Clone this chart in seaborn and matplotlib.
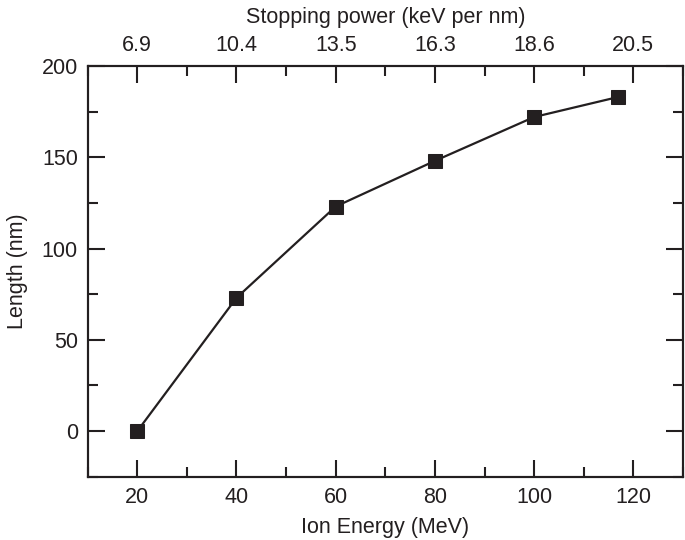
import numpy as np
import pandas as pd
import matplotlib
matplotlib.use("Agg")
import matplotlib.pyplot as plt
import seaborn as sns
from matplotlib.ticker import MultipleLocator

# data
energy = [20, 40, 60, 80, 100, 117]
length = [0, 73, 123, 148, 172, 183]
top_ticks = [20, 40, 60, 80, 100, 120]
top_labels = ["6.9", "10.4", "13.5", "16.3", "18.6", "20.5"]

INK = "#231f20"

sns.set_style("ticks")
plt.rcParams["font.family"] = ["Liberation Sans", "DejaVu Sans"]
plt.rcParams.update({
    "axes.edgecolor": INK,
    "axes.linewidth": 1.5,
    "xtick.color": INK,
    "ytick.color": INK,
    "text.color": INK,
    "axes.labelcolor": INK,
})

df = pd.DataFrame({"energy": energy, "length": length})

fig = plt.figure(figsize=(6.85, 5.40), dpi=100)
ax = fig.add_axes([0.128, 0.117, 0.869, 0.761])

sns.lineplot(data=df, x="energy", y="length", ax=ax, color=INK, lw=1.6,
             marker="s", markersize=10.5, markeredgecolor=INK,
             markerfacecolor=INK)

ax.set_xlim(10, 130)
ax.set_ylim(-25, 200)
ax.set_xticks([20, 40, 60, 80, 100, 120])
ax.set_yticks([0, 50, 100, 150, 200])
ax.xaxis.set_minor_locator(MultipleLocator(10))
ax.yaxis.set_minor_locator(MultipleLocator(25))
ax.tick_params(which="both", direction="in", width=1.5, labelsize=15.5, pad=7,
               right=True, top=False)
ax.tick_params(which="major", length=12)
ax.tick_params(which="minor", length=7)
ax.set_xlabel("Ion Energy (MeV)", fontsize=15.5, labelpad=7)
ax.set_ylabel("Length (nm)", fontsize=15.5, labelpad=10)
for s in ax.spines.values():
    s.set_visible(True)

top = ax.twiny()
top.set_xlim(ax.get_xlim())
top.set_xticks(top_ticks)
top.set_xticklabels(top_labels)
top.xaxis.set_minor_locator(MultipleLocator(10))
top.tick_params(which="both", direction="in", width=1.5, labelsize=15.5, pad=7)
top.tick_params(which="major", length=12)
top.tick_params(which="minor", length=7)
top.set_xlabel("Stopping power (keV per nm)", fontsize=15.5, labelpad=9)

fig.savefig("out.png", dpi=100)
